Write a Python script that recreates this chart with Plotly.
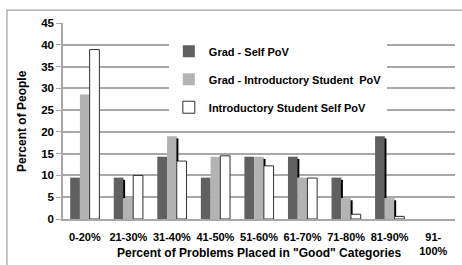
import plotly.graph_objects as go

categories = ["0-20%", "21-30%", "31-40%", "41-50%", "51-60%", "61-70%", "71-80%", "81-90%", "91-<br>100%"]
grad_self = [9.5, 9.5, 14.3, 9.5, 14.3, 14.3, 9.5, 19.0, 0]
grad_intro = [28.6, 4.8, 19.0, 14.3, 14.3, 9.5, 4.8, 4.8, 0]
intro_self = [38.9, 10.0, 13.3, 14.5, 12.2, 9.4, 1.1, 0.6, 0]
series_names = ["Grad - Self PoV", "Grad - Introductory Student  PoV", "Introductory Student Self PoV"]

FONT = "Liberation Sans"
BARGAP = 0.33
fig = go.Figure()
fig.add_trace(go.Bar(x=categories, y=grad_self, name=series_names[0], legendgroup="a",
                     marker=dict(color="#606060", line=dict(width=0))))
fig.add_trace(go.Bar(x=categories, y=grad_intro, name=series_names[1], legendgroup="b",
                     marker=dict(color="#b3b3b3", line=dict(width=0))))
fig.add_trace(go.Bar(x=categories, y=intro_self, name=series_names[2], legendgroup="c",
                     marker=dict(color="#ffffff",
                                 line=dict(width=[1 if v > 0 else 0 for v in intro_self], color="#303030"))))

# dark "shadow" edge drawn where a bar stands above its right-hand neighbour
series = [grad_self, grad_intro, intro_self]
bw = (1 - BARGAP) / 3
sx, sy = [], []
for k in range(2):
    for i in range(len(categories)):
        v, nxt = series[k][i], series[k + 1][i]
        if v - nxt > 0.3:
            xe = i - (1 - BARGAP) / 2 + bw * (k + 1) + 0.015
            sx += [xe, xe, None]
            sy += [v - 0.5, nxt, None]
fig.add_trace(go.Scatter(x=sx, y=sy, xaxis="x2", mode="lines", showlegend=False,
                         line=dict(color="black", width=2), hoverinfo="skip"))

grid = "#a8a8a8"
fig.update_layout(
    width=462, height=265,
    margin=dict(l=63, r=7, t=23, b=46),
    paper_bgcolor="white", plot_bgcolor="white",
    barmode="group", bargap=BARGAP, bargroupgap=0,
    font=dict(family=FONT, size=11, color="black"),
    legend=dict(x=0.27, y=0.93, xanchor="left", yanchor="top", bgcolor="white",
                font=dict(family=FONT, size=11, color="black", weight="bold"),
                tracegroupgap=9, traceorder="grouped"),
    xaxis=dict(showline=True, linecolor=grid, linewidth=1.5, ticks="",
               tickfont=dict(family=FONT, size=11, weight="bold"), ticklabelstandoff=7),
    xaxis2=dict(overlaying="x", range=[-0.5, len(categories) - 0.5], visible=False),
    yaxis=dict(range=[0, 45], dtick=5, showgrid=True, gridcolor=grid, gridwidth=1.5,
               showline=True, linecolor=grid, linewidth=1.5, ticks="outside", ticklen=5,
               tickcolor=grid, tickfont=dict(family=FONT, size=11.5, weight="bold"), zeroline=False),
    shapes=[dict(type="rect", xref="paper", yref="paper", x0=-0.143, y0=-0.6, x1=1.2, y1=1.066,
                 line=dict(color="#a0a0a0", width=1.2), fillcolor="rgba(0,0,0,0)", layer="below")],
    annotations=[
        dict(text="Percent of Problems Placed in \"Good\" Categories", xref="paper", yref="paper",
             x=0.5, y=-0.1735, xanchor="center", yanchor="middle", showarrow=False,
             font=dict(family=FONT, size=12, weight="bold")),
        dict(text="Percent of People", xref="paper", yref="paper", x=-0.1046, y=0.5,
             xanchor="center", yanchor="middle", textangle=-90, showarrow=False,
             font=dict(family=FONT, size=12, weight="bold")),
    ],
)
fig.write_html("out.html", config={"displayModeBar": False},
               post_script="document.body.style.margin='0';")
